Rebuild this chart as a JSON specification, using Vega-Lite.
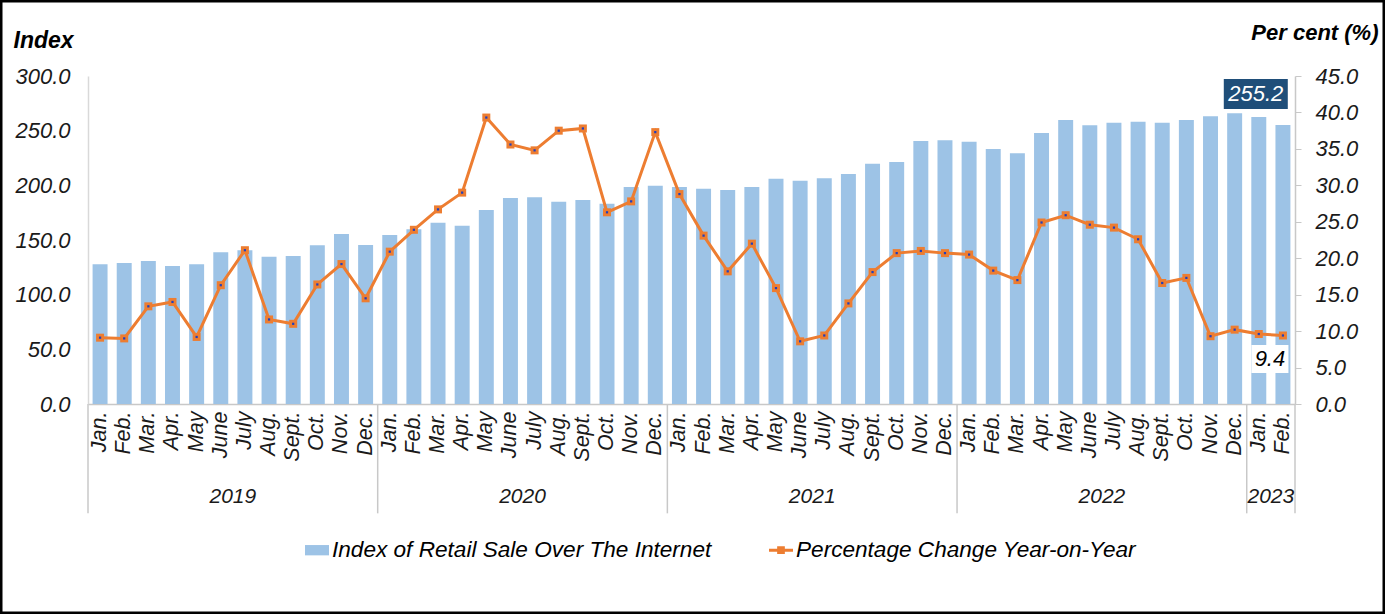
{
  "$schema": "https://vega.github.io/schema/vega-lite/v6.json",
  "width": 1385,
  "height": 614,
  "autosize": "none",
  "padding": 0,
  "background": "white",
  "config": {
    "view": {"stroke": "black", "strokeWidth": 5},
    "font": "Liberation Sans",
    "text": {"font": "Liberation Sans"}
  },
  "data": {
    "values": [
      {"period": "2019 Jan.", "year": 2019, "month": "Jan.", "index": 127.8, "pct": 9.1},
      {"period": "2019 Feb.", "year": 2019, "month": "Feb.", "index": 129.0, "pct": 9.0},
      {"period": "2019 Mar.", "year": 2019, "month": "Mar.", "index": 130.8, "pct": 13.4},
      {"period": "2019 Apr.", "year": 2019, "month": "Apr.", "index": 126.2, "pct": 14.0},
      {"period": "2019 May", "year": 2019, "month": "May", "index": 127.8, "pct": 9.2},
      {"period": "2019 June", "year": 2019, "month": "June", "index": 138.8, "pct": 16.3},
      {"period": "2019 July", "year": 2019, "month": "July", "index": 140.6, "pct": 21.1},
      {"period": "2019 Aug.", "year": 2019, "month": "Aug.", "index": 134.7, "pct": 11.6},
      {"period": "2019 Sept.", "year": 2019, "month": "Sept.", "index": 135.4, "pct": 11.0},
      {"period": "2019 Oct.", "year": 2019, "month": "Oct.", "index": 145.2, "pct": 16.4},
      {"period": "2019 Nov.", "year": 2019, "month": "Nov.", "index": 155.5, "pct": 19.2},
      {"period": "2019 Dec.", "year": 2019, "month": "Dec.", "index": 145.4, "pct": 14.5},
      {"period": "2020 Jan.", "year": 2020, "month": "Jan.", "index": 154.6, "pct": 20.9},
      {"period": "2020 Feb.", "year": 2020, "month": "Feb.", "index": 159.8, "pct": 23.9},
      {"period": "2020 Mar.", "year": 2020, "month": "Mar.", "index": 165.8, "pct": 26.7},
      {"period": "2020 Apr.", "year": 2020, "month": "Apr.", "index": 163.1, "pct": 29.0},
      {"period": "2020 May", "year": 2020, "month": "May", "index": 177.4, "pct": 39.3},
      {"period": "2020 June", "year": 2020, "month": "June", "index": 188.4, "pct": 35.6},
      {"period": "2020 July", "year": 2020, "month": "July", "index": 189.0, "pct": 34.8},
      {"period": "2020 Aug.", "year": 2020, "month": "Aug.", "index": 185.0, "pct": 37.5},
      {"period": "2020 Sept.", "year": 2020, "month": "Sept.", "index": 186.6, "pct": 37.8},
      {"period": "2020 Oct.", "year": 2020, "month": "Oct.", "index": 183.2, "pct": 26.3},
      {"period": "2020 Nov.", "year": 2020, "month": "Nov.", "index": 198.5, "pct": 27.8},
      {"period": "2020 Dec.", "year": 2020, "month": "Dec.", "index": 199.7, "pct": 37.3},
      {"period": "2021 Jan.", "year": 2021, "month": "Jan.", "index": 198.5, "pct": 28.8},
      {"period": "2021 Feb.", "year": 2021, "month": "Feb.", "index": 196.9, "pct": 23.1},
      {"period": "2021 Mar.", "year": 2021, "month": "Mar.", "index": 195.7, "pct": 18.2},
      {"period": "2021 Apr.", "year": 2021, "month": "Apr.", "index": 198.5, "pct": 22.0},
      {"period": "2021 May", "year": 2021, "month": "May", "index": 206.1, "pct": 15.9},
      {"period": "2021 June", "year": 2021, "month": "June", "index": 204.3, "pct": 8.6},
      {"period": "2021 July", "year": 2021, "month": "July", "index": 206.4, "pct": 9.4},
      {"period": "2021 Aug.", "year": 2021, "month": "Aug.", "index": 210.4, "pct": 13.8},
      {"period": "2021 Sept.", "year": 2021, "month": "Sept.", "index": 219.8, "pct": 18.1},
      {"period": "2021 Oct.", "year": 2021, "month": "Oct.", "index": 221.3, "pct": 20.7},
      {"period": "2021 Nov.", "year": 2021, "month": "Nov.", "index": 240.6, "pct": 21.0},
      {"period": "2021 Dec.", "year": 2021, "month": "Dec.", "index": 241.2, "pct": 20.7},
      {"period": "2022 Jan.", "year": 2022, "month": "Jan.", "index": 239.9, "pct": 20.5},
      {"period": "2022 Feb.", "year": 2022, "month": "Feb.", "index": 233.2, "pct": 18.3},
      {"period": "2022 Mar.", "year": 2022, "month": "Mar.", "index": 229.3, "pct": 17.0},
      {"period": "2022 Apr.", "year": 2022, "month": "Apr.", "index": 247.9, "pct": 24.9},
      {"period": "2022 May", "year": 2022, "month": "May", "index": 259.8, "pct": 25.9},
      {"period": "2022 June", "year": 2022, "month": "June", "index": 254.9, "pct": 24.6},
      {"period": "2022 July", "year": 2022, "month": "July", "index": 257.3, "pct": 24.2},
      {"period": "2022 Aug.", "year": 2022, "month": "Aug.", "index": 258.2, "pct": 22.6},
      {"period": "2022 Sept.", "year": 2022, "month": "Sept.", "index": 257.3, "pct": 16.6},
      {"period": "2022 Oct.", "year": 2022, "month": "Oct.", "index": 259.8, "pct": 17.3},
      {"period": "2022 Nov.", "year": 2022, "month": "Nov.", "index": 263.1, "pct": 9.3},
      {"period": "2022 Dec.", "year": 2022, "month": "Dec.", "index": 265.9, "pct": 10.2},
      {"period": "2023 Jan.", "year": 2023, "month": "Jan.", "index": 262.5, "pct": 9.6},
      {"period": "2023 Feb.", "year": 2023, "month": "Feb.", "index": 255.2, "pct": 9.4}
    ]
  },
  "encoding": {
    "x": {
      "field": "period",
      "type": "nominal",
      "sort": null,
      "scale": {"range": [88, 1295], "paddingInner": 0.38, "paddingOuter": 0.19},
      "axis": {
        "title": null,
        "orient": "bottom",
        "offset": -210,
        "labelExpr": "split(datum.label, ' ')[1]",
        "labelAngle": -90,
        "labelAlign": "right",
        "labelBaseline": "middle",
        "labelPadding": 7,
        "labelFont": "Liberation Sans",
        "labelFontStyle": "italic",
        "labelFontSize": 21.5,
        "labelColor": "#1a1a1a",
        "ticks": false,
        "domainColor": "#C8C8C8",
        "domainWidth": 1.5,
        "grid": false
      }
    }
  },
  "layer": [
    {
      "encoding": {
        "y": {
          "field": "index",
          "type": "quantitative",
          "scale": {"domain": [0, 300], "range": [404, 76], "nice": false, "zero": true},
          "axis": {
            "orient": "left",
            "offset": -88,
            "values": [0, 50, 100, 150, 200, 250, 300],
            "format": ".1f",
            "labelFont": "Liberation Sans",
            "labelFontStyle": "italic",
            "labelFontSize": 22,
            "labelColor": "#1a1a1a",
            "labelPadding": 18,
            "ticks": false,
            "grid": false,
            "domainColor": "#D9D9D9",
            "domainWidth": 1.5,
            "title": "Index",
            "titleAngle": 0,
            "titleAlign": "left",
            "titleBaseline": "middle",
            "titleX": -75,
            "titleY": 40,
            "titleFont": "Liberation Sans",
            "titleFontStyle": "italic",
            "titleFontWeight": "bold",
            "titleFontSize": 23,
            "titleColor": "#000000"
          }
        }
      },
      "layer": [
        {
          "mark": {"type": "bar"},
          "encoding": {
            "fill": {
              "datum": "Index of Retail Sale Over The Internet",
              "type": "nominal",
              "scale": {
                "domain": ["Index of Retail Sale Over The Internet", "Percentage Change Year-on-Year"],
                "range": ["#9DC3E6", "#ED7D31"]
              },
              "legend": {
                "title": null,
                "orient": "none",
                "direction": "horizontal",
                "legendX": 305,
                "legendY": 538,
                "columnPadding": 57,
                "symbolSize": 576,
                "symbolStrokeWidth": 0,
                "labelFont": "Liberation Sans",
                "labelFontStyle": "italic",
                "labelFontSize": 22.6,
                "labelColor": "#000000",
                "labelLimit": 0,
                "labelOffset": 3,
                "encode": {
                  "symbols": {
                    "update": {
                      "shape": {"signal": "datum.value == 'Index of Retail Sale Over The Internet' ? 'M-1,-0.43H1V0.43H-1Z' : 'M-1,-0.12H1V0.12H-1Z M-0.32,-0.32H0.32V0.32H-0.32Z'"}
                    }
                  }
                }
              }
            }
          }
        },
        {
          "transform": [{"filter": "datum.month == 'Jan.'"}],
          "mark": {"type": "rule", "color": "#C8C8C8", "strokeWidth": 1.5, "xOffset": -12.07},
          "encoding": {
            "y": {"datum": 0, "type": "quantitative"},
            "y2": {"datum": -100}
          }
        },
        {
          "transform": [{"filter": "datum.period == '2023 Feb.'"}],
          "mark": {"type": "rule", "color": "#C8C8C8", "strokeWidth": 1.5, "xOffset": 12.07},
          "encoding": {
            "y": {"datum": 0, "type": "quantitative"},
            "y2": {"datum": -100}
          }
        },
        {
          "transform": [{"filter": "datum.month == 'July' || datum.period == '2023 Feb.'"}],
          "mark": {"type": "text", "font": "Liberation Sans", "fontStyle": "italic", "fontSize": 21, "color": "#1a1a1a", "dx": -12.07, "baseline": "middle", "align": "center"},
          "encoding": {
            "y": {"datum": -85, "type": "quantitative"},
            "text": {"field": "year", "type": "nominal"}
          }
        },
        {
          "transform": [{"filter": "datum.period == '2023 Feb.'"}],
          "mark": {"type": "bar", "color": "#1F4E79", "width": 64, "xOffset": -3},
          "encoding": {
            "x": {"datum": "2023 Jan.", "type": "nominal"},
            "y": {"datum": 297.3, "type": "quantitative"},
            "y2": {"datum": 269.8}
          }
        },
        {
          "transform": [{"filter": "datum.period == '2023 Feb.'"}],
          "mark": {"type": "text", "font": "Liberation Sans", "fontStyle": "italic", "fontSize": 22, "color": "white", "dx": -3, "baseline": "middle", "align": "center"},
          "encoding": {
            "x": {"datum": "2023 Jan.", "type": "nominal"},
            "y": {"datum": 283.5, "type": "quantitative"},
            "text": {"field": "index", "type": "quantitative", "format": ".1f"}
          }
        }
      ]
    },
    {
      "encoding": {
        "y": {
          "field": "pct",
          "type": "quantitative",
          "scale": {"domain": [0, 45], "range": [404, 76], "nice": false, "zero": true},
          "axis": {
            "orient": "right",
            "offset": -90,
            "values": [0, 5, 10, 15, 20, 25, 30, 35, 40, 45],
            "format": ".1f",
            "labelFont": "Liberation Sans",
            "labelFontStyle": "italic",
            "labelFontSize": 22,
            "labelColor": "#1a1a1a",
            "labelPadding": 14,
            "ticks": true,
            "tickSize": 6,
            "tickColor": "#C8C8C8",
            "grid": false,
            "domainColor": "#C8C8C8",
            "domainWidth": 1.5,
            "title": "Per cent (%)",
            "titleAngle": 0,
            "titleAlign": "right",
            "titleBaseline": "middle",
            "titleX": 83,
            "titleY": 32,
            "titleFont": "Liberation Sans",
            "titleFontStyle": "italic",
            "titleFontWeight": "bold",
            "titleFontSize": 22,
            "titleColor": "#000000"
          }
        }
      },
      "layer": [
        {
          "mark": {"type": "line", "color": "#ED7D31", "strokeWidth": 3}
        },
        {
          "mark": {"type": "point", "shape": "square", "filled": true, "size": 64, "opacity": 1},
          "encoding": {
            "fill": {"datum": "Percentage Change Year-on-Year", "type": "nominal"}
          }
        },
        {
          "mark": {"type": "point", "shape": "square", "filled": true, "size": 5, "color": "#1F3FBF", "opacity": 1}
        },
        {
          "transform": [{"filter": "datum.period == '2023 Feb.'"}],
          "mark": {"type": "bar", "color": "white", "width": 37, "xOffset": -13},
          "encoding": {
            "y": {"datum": 8.1, "type": "quantitative"},
            "y2": {"datum": 4.25}
          }
        },
        {
          "transform": [{"filter": "datum.period == '2023 Feb.'"}],
          "mark": {"type": "text", "font": "Liberation Sans", "fontStyle": "italic", "fontSize": 22, "color": "#000000", "dx": -13, "baseline": "middle", "align": "center"},
          "encoding": {
            "y": {"datum": 6.17, "type": "quantitative"},
            "text": {"field": "pct", "type": "quantitative", "format": ".1f"}
          }
        }
      ]
    }
  ],
  "resolve": {"scale": {"y": "independent"}}
}
